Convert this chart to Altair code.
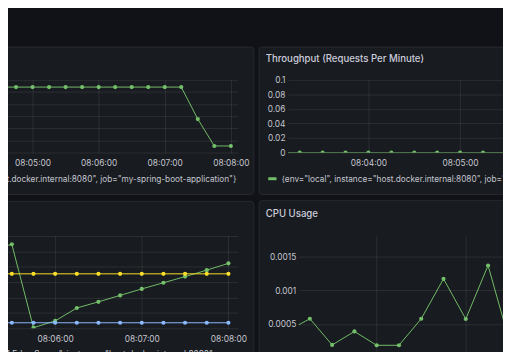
import altair as alt
import pandas as pd

# ---------------- data ----------------
tl_times = ["08:04:30", "08:04:45", "08:05:00", "08:05:15", "08:05:30", "08:05:45",
            "08:06:00", "08:06:15", "08:06:30", "08:06:45", "08:07:00", "08:07:15",
            "08:07:30", "08:07:45", "08:08:00"]
tl_values = [54, 54, 54, 54, 54, 54, 54, 54, 54, 54, 54, 54, 27.6, 5.4, 5.4]
tl_xticks = ["08:05:00", "08:06:00", "08:07:00", "08:08:00"]
tl_yticks = [0, 10, 20, 30, 40, 50, 60]
tl_legend = '{env="local", instance="host.docker.internal:8080", job="my-spring-boot-application"}'

tr_title = "Throughput (Requests Per Minute)"
tr_times = ["08:03:00", "08:03:15", "08:03:30", "08:03:45", "08:04:00", "08:04:15", "08:04:30",
            "08:04:45", "08:05:00", "08:05:15", "08:05:30", "08:05:45", "08:06:00"]
tr_values = [0, 0, 0, 0, 0, 0, 0, 0, 0, 0, 0, 0, 0]
tr_xticks = ["08:04:00", "08:05:00", "08:06:00"]
tr_yticks = [0, 0.02, 0.04, 0.06, 0.08, 0.1]
tr_legend = '{env="local", instance="host.docker.internal:8080", job="my-spring-boot-application"}'

bl_times = ["08:05:15", "08:05:30", "08:05:45", "08:06:00", "08:06:15", "08:06:30",
            "08:06:45", "08:07:00", "08:07:15", "08:07:30", "08:07:45", "08:08:00"]
bl_eden = [254, 273, 2, 24, 66, 86, 107, 128, 148, 168, 189, 211]
bl_old = [177, 177, 177, 177, 177, 177, 177, 177, 177, 177, 177, 177]
bl_survivor = [18, 18, 18, 18, 18, 18, 18, 18, 18, 18, 18, 18]
bl_series = ["G1 Eden Space", "G1 Old Gen", "G1 Survivor Space"]
bl_xticks = ["08:06:00", "08:07:00", "08:08:00"]
bl_yticks = [0, 50, 100, 150, 200, 250, 300]
bl_legend_prefix = '{area="heap", id="'
bl_legend_rest = 'G1 Eden Space", instance="host.docker.internal:8080", job="my-spring-boot-application"}'

br_title = "CPU Usage"
br_times = ["08:03:00", "08:03:15", "08:03:30", "08:03:45", "08:04:00", "08:04:15",
            "08:04:30", "08:04:45", "08:05:00", "08:05:15", "08:05:30"]
br_values = [0.0004, 0.000578, 0.00019, 0.00039, 0.000185, 0.000185,
             0.000578, 0.00117, 0.000574, 0.001368, 0.0002]
br_xticks = ["08:04:00", "08:05:00", "08:06:00"]
br_yticks = [0, 0.0005, 0.001, 0.0015]

# ---------------- style ----------------
BG = "#111217"
PANEL = "#181b1f"
BORDER = "#272a30"
TEXT = "#ccccdc"
LABEL = "#c4c5cf"
LEG = "#c4c5cf"
GREEN = "#73bf69"
YELLOW = "#fade2a"
BLUE = "#8ab8ff"
FONT = "Inter"
DOT = 18


def sec(t):
    h, m, s = t.split(":")
    return int(h) * 3600 + int(m) * 60 + int(s)


LABEL_EXPR = "utcFormat(datum.value * 1000, '%H:%M:%S')"


def x_enc(domain, ticks):
    return alt.X("s:Q", scale=alt.Scale(domain=domain, nice=False, zero=False),
                 axis=alt.Axis(values=[sec(t) for t in ticks], labelExpr=LABEL_EXPR, title=None,
                               grid=True, labelBaseline="middle", labelPadding=10,
                               labelOverlap=False, labelFlush=False, zindex=1))


def y_enc(domain, ticks, labels, fmt="~g"):
    return alt.Y("v:Q", scale=alt.Scale(domain=domain, nice=False, zero=False),
                 axis=alt.Axis(values=ticks, title=None, grid=True, labels=labels,
                               labelPadding=3, format=fmt, zindex=1))


def rect(x0, x1, y0, y1):
    return alt.Chart(pd.DataFrame({"k": [0]})).mark_rect(
        fill=PANEL, stroke=BORDER, strokeWidth=1, cornerRadius=3
    ).encode(x=alt.value(x0), x2=alt.value(x1), y=alt.value(y0), y2=alt.value(y1))


def label(text, x, y, size, weight=400, align="left", color=TEXT, limit=0):
    return alt.Chart(pd.DataFrame({"t": [text]})).mark_text(
        align=align, baseline="middle", fontSize=size, fontWeight=weight, font=FONT,
        color=color, limit=limit, ellipsis=""
    ).encode(x=alt.value(x), y=alt.value(y), text="t:N")


def swatch(x0, x1, y, color):
    return alt.Chart(pd.DataFrame({"k": [0]})).mark_rule(color=color, strokeWidth=3).encode(
        x=alt.value(x0), x2=alt.value(x1), y=alt.value(y))


# ---------------- top-left ----------------
tl_df = pd.DataFrame({"s": [sec(t) for t in tl_times], "v": tl_values})
tl_base = alt.Chart(tl_df).encode(x=x_enc([29045.62, 29286.33], tl_xticks),
                                  y=y_enc([0, 60], tl_yticks, False))
tl = alt.layer(
    rect(-230.7, 286.3, -33.3, 116.7),
    tl_base.mark_line(color=GREEN, strokeWidth=1, clip=True),
    tl_base.mark_circle(color=GREEN, size=DOT, opacity=1, clip=True),
    label(tl_legend, 268.6, 101.4, 8.4, align="right", color=LEG),
).properties(width=270, height=74)

# ---------------- top-right ----------------
tr_df = pd.DataFrame({"s": [sec(t) for t in tr_times], "v": tr_values})
tr_base = alt.Chart(tr_df).encode(x=x_enc([28987.27, 29187.91], tr_xticks),
                                  y=y_enc([0, 0.1], tr_yticks, True))
tr = alt.layer(
    rect(-29.3, 420, -33.3, 116.7),
    tr_base.mark_line(color=GREEN, strokeWidth=1, clip=True),
    tr_base.mark_circle(color=GREEN, size=DOT, opacity=1, clip=True),
    label(tr_title, -22.6, -21, 9.8, weight=500),
    swatch(-20, -11.6, 100.7, GREEN),
    label(tr_legend, -6.6, 100.7, 8.4, color=LEG),
).properties(width=312, height=74)

# ---------------- bottom-left ----------------
bl_rows = []
for name, vals in zip(bl_series, [bl_eden, bl_old, bl_survivor]):
    for t, v in zip(bl_times, vals):
        bl_rows.append({"s": sec(t), "v": v, "series": name})
bl_df = pd.DataFrame(bl_rows)
bl_color = alt.Color("series:N", scale=alt.Scale(domain=bl_series, range=[GREEN, YELLOW, BLUE]),
                     legend=None)
bl_base = alt.Chart(bl_df).encode(x=x_enc([29102.86, 29286.53], bl_xticks),
                                  y=y_enc([0, 300], bl_yticks, False), color=bl_color)
bl = alt.layer(
    rect(-230.7, 286.3, -35.3, 185.7),
    bl_base.mark_line(strokeWidth=1, clip=True),
    bl_base.mark_circle(size=DOT, opacity=1, clip=True),
    label(bl_legend_prefix, 28.3, 120, 8.4, align="right", color=LEG),
    label(bl_legend_rest, 28.3, 120, 8.4, color=LEG, limit=224),
).properties(width=270, height=94)

# ---------------- bottom-right ----------------
br_df = pd.DataFrame({"s": [sec(t) for t in br_times], "v": br_values})
br_base = alt.Chart(br_df).encode(x=x_enc([28987.48, 29186.59], br_xticks),
                                  y=y_enc([0, 0.001805], br_yticks, True))
br = alt.layer(
    rect(-40.3, 420, -36, 185),
    br_base.mark_line(color=GREEN, strokeWidth=1, clip=True),
    br_base.mark_circle(color=GREEN, size=DOT, opacity=1, clip=True),
    label(br_title, -33.6, -22.7, 9.8, weight=500),
).properties(width=301, height=124)

row1 = alt.hconcat(tl, tr, spacing=4)
row2 = alt.hconcat(bl, br, spacing=4)
chart = alt.vconcat(row1, row2, spacing=4).properties(
    padding={"left": -268, "top": 36, "right": -213, "bottom": -72},
    background=BG,
).configure_view(stroke=None).configure_axis(
    domain=False, ticks=False, tickSize=0, labelFont=FONT, labelFontSize=8.5,
    labelColor=LABEL, gridColor="#f0faff", gridOpacity=0.09, gridWidth=1,
)

chart.save("out.html", embed_options={"renderer": "svg", "actions": False})
